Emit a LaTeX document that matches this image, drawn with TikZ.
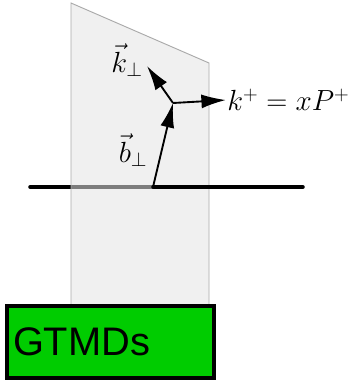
\documentclass[tikz,border=0pt]{standalone}
\usepackage{amsmath}
\usepackage{fontspec}
\newfontfamily\boxfont{Liberation Sans}
\definecolor{gtgreen}{RGB}{0,204,0}
\definecolor{planeedge}{RGB}{170,170,170}
\definecolor{planefill}{RGB}{228,228,228}
\usetikzlibrary{arrows.meta,positioning}

\begin{document}
\begin{tikzpicture}[x=0.03cm, y=-0.03cm,
    plane/.style={draw=planeedge, line width=0.8pt, fill=planefill, fill opacity=0.55},
    axis/.style={line width=3pt, line cap=round},
    vec/.style={-{Latex[length=21pt, width=12pt]}, line width=1.6pt},
    lbl/.style={font=\fontsize{25}{30}\selectfont, inner sep=1pt},
    gtbox/.style={draw=black, line width=2.6pt, fill=gtgreen, minimum width=207*0.03cm,
      minimum height=72*0.03cm, text width=195*0.03cm, align=left, inner sep=4pt,
      font=\boxfont\fontsize{34}{36}\selectfont}
  ]
    \useasboundingbox (0,0) rectangle (353,382);

    % axis behind the plane
    \draw[axis] (30,187) -- (153,187);
    \filldraw[plane] (71,3) -- (209,63) -- (209,320) -- (71,320) -- cycle;
    \coordinate (o) at (153,187);
    \coordinate (v) at (173,103);
    \coordinate (r) at (303,187);
    \draw[axis] (o) -- (r);

    % vectors
    \draw[vec] (o) -- (v);
    \draw[vec] (v) -- (147,66);
    \node[lbl, anchor=west] (kplus) at (226,100) {$k^+ = xP^+$};
    \draw[vec] (v) -- (kplus.west);
    \node[lbl] (kperp) at (127,60) {$\vec{k}_\perp$};
    \node[lbl] (bperp) at (133,150) {$\vec{b}_\perp$};

    \node[gtbox] (gtmds) at (110.5,342) {GTMDs};
  \end{tikzpicture}
\end{document}
